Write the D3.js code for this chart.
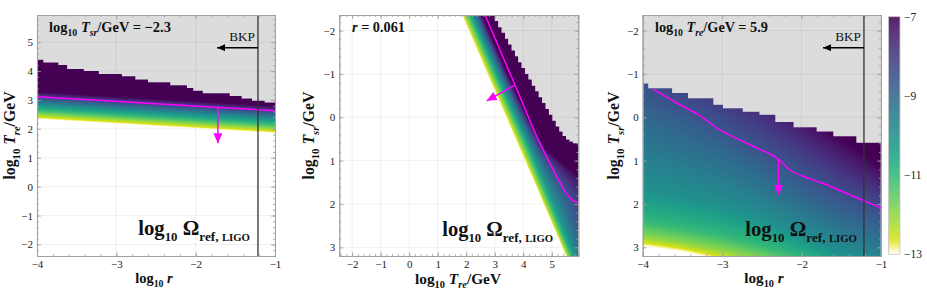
<!DOCTYPE html>
<html><head><meta charset="utf-8">
<script src="https://cdn.jsdelivr.net/npm/d3@7/dist/d3.min.js"></script>
<style>
html,body{margin:0;padding:0;background:#fff;}
text{font-family:"Liberation Serif","DejaVu Serif",serif;}
</style></head><body>
<svg id="chart" width="927" height="290"></svg>
<script>
// ---------------- DATA ----------------
const levels = [-13, -12, -11, -10, -9, -8, -7];      // log10 Omega levels
const cbTicks = [-13, -11, -9, -7];
const logRBKP = Math.log10(0.061);

// Panel 1: x = log10 r, y = log10 Tre (Tsr = -2.3). Level positions (Tre) per column
const p1Nodes = [-4, -1];
const p1LevelTre = [
  [2.34, 2.50, 2.65, 2.83, 2.98, 3.13, 3.28],
  [1.85, 2.01, 2.16, 2.34, 2.49, 2.64, 2.79]
];
const p1StepR   = [-4.00,-3.92,-3.73,-3.62,-3.41,-3.22,-2.93,-2.76,-2.60,-2.32,-2.11,-2.03,-1.91,-1.57,-1.42,-1.29,-1.13,-1.00];
const p1StepTre = [ 4.39, 4.30, 4.21, 4.07, 4.00, 3.90, 3.82, 3.71, 3.61, 3.51, 3.41, 3.32, 3.23, 3.14, 3.05, 2.97, 2.91, 2.91];
const p1MagR   = [-4, -2.5, -1];
const p1MagTre = [3.11, 2.87, 2.63];
const p1Arrow  = {x: -1.72, from: 2.75, to: 1.50};
const p1XTicks = [-4, -3, -2, -1];
const p1YTicks = [-2, -1, 0, 1, 2, 3, 4, 5];

// Panel 2: x = log10 Tre, y = log10 Tsr (r = 0.061). Level positions (Tre) per Tsr row
const p2Nodes = [-2.36, -1, 0, 0.75, 1.5, 2, 2.5, 3.2];
const p2LevelTre = [
  [1.85, 1.98, 2.11, 2.23, 2.35, 2.45, 2.55],
  [2.74, 2.87, 3.00, 3.12, 3.24, 3.34, 3.45],
  [3.40, 3.53, 3.66, 3.79, 3.92, 4.04, 4.16],
  [3.89, 4.02, 4.16, 4.30, 4.46, 4.62, 4.80],
  [4.39, 4.50, 4.63, 4.80, 5.05, 5.55, 6.20],
  [4.71, 4.81, 4.94, 5.12, 5.50, 6.05, 6.70],
  [5.04, 5.13, 5.25, 5.42, 5.75, 6.30, 7.00],
  [5.50, 5.58, 5.68, 5.82, 6.12, 6.70, 7.40]
];
const p2StepTre = [3.00,3.12,3.24,3.36,3.47,3.59,3.71,3.82,3.94,4.06,4.18,4.30,4.42,4.54,4.66,4.78,4.90,5.02,5.14,5.26,5.38,5.50,5.62,5.74,5.93];
const p2StepTsr = [-2.22,-2.08,-1.95,-1.81,-1.68,-1.54,-1.41,-1.27,-1.14,-1.00,-0.87,-0.73,-0.60,-0.46,-0.33,-0.19,-0.06,0.08,0.21,0.33,0.43,0.51,0.56,0.60,0.60];
const p2MagTre = [2.66, 3.71, 4.55, 4.85, 5.20, 5.50, 5.75, 5.93];
const p2MagTsr = [-2.36, -0.745, 0.55, 0.95, 1.40, 1.75, 1.92, 1.96];
const p2Arrow  = {x0: 3.71, y0: -0.745, x1: 2.72, y1: -0.38};
const p2XTicks = [-2, -1, 0, 1, 2, 3, 4, 5];
const p2YTicks = [-2, -1, 0, 1, 2, 3];

// Panel 3: x = log10 r, y = log10 Tsr (Tre = 5.9). Level positions (Tsr) per column
const p3Nodes = [-4, -3.5, -3, -2.5, -2, -1.5, -1];
const p3LevelTsr = [
  [2.97, 2.76, 2.40, 1.65, 0.00, -1.30, -2.60],
  [3.10, 2.90, 2.55, 1.85, 0.40, -0.90, -2.20],
  [3.30, 3.08, 2.72, 2.05, 0.80, -0.40, -1.60],
  [3.55, 3.30, 2.95, 2.35, 1.30,  0.15, -0.90],
  [3.90, 3.60, 3.25, 2.75, 1.85,  0.75, -0.20],
  [4.30, 4.00, 3.65, 3.15, 2.30,  1.35,  0.45],
  [4.70, 4.35, 4.00, 3.45, 2.65,  1.80,  1.10]
];
const p3StepR   = [-4.00,-3.93,-3.63,-3.43,-3.11,-2.99,-2.74,-2.53,-2.33,-2.10,-1.81,-1.60,-1.31,-1.00];
const p3StepTsr = [-0.78,-0.67,-0.56,-0.44,-0.29,-0.21,-0.13,-0.06, 0.11, 0.23, 0.33, 0.44, 0.59, 0.59];
const p3MagR   = [-3.87,-3.57,-3.30,-3.03,-2.78,-2.56,-2.31,-2.15,-1.89,-1.64,-1.39,-1.22,-1.00];
const p3MagTsr = [-0.65,-0.33,-0.06, 0.29, 0.52, 0.71, 0.94, 1.21, 1.42, 1.59, 1.79, 1.92, 2.09];
const p3Arrow  = {x: -2.29, from: 0.94, to: 1.79};
const p3XTicks = [-4, -3, -2, -1];
const p3YTicks = [-2, -1, 0, 1, 2, 3];

// ---------------- HELPERS ----------------
const svg = d3.select("#chart");
const defs = svg.append("defs");
const MAG = "#ff00ff";

function addMarker(id, color, len, half) {
  defs.append("marker").attr("id", id).attr("viewBox", `0 ${-half} ${len} ${2*half}`)
    .attr("refX", len).attr("refY", 0).attr("markerUnits", "userSpaceOnUse")
    .attr("markerWidth", len).attr("markerHeight", 2*half).attr("orient", "auto")
    .append("path").attr("d", `M0,${-half}L${len},0L0,${half}Z`).attr("fill", color);
}
addMarker("headK", "#000", 8, 3.5);
addMarker("headM", MAG, 10, 4.5);

// colour map (viridis reversed, fading to white at -13)
const lut = d3.range(601).map(i => {
  const v = -13 + i * 0.01;
  let c = d3.rgb(d3.interpolateViridis((-7 - v) / 6));
  if (v < -12.65) c = d3.rgb(d3.interpolateRgb(c, "#ffffff")((-12.65 - v) / 0.35));
  return c;
});
function colorOf(v) {
  if (!(v >= -13)) return null;
  return lut[Math.round((Math.min(v, -7) + 13) * 100)];
}

function levelField(nodes, table) {
  const posScales = levels.map((L, k) =>
    d3.scaleLinear().domain(nodes).range(table.map(r => r[k])).clamp(true));
  return a => d3.scaleLinear().domain(posScales.map(s => s(a))).range(levels);
}

function drawHeat(g, xs, ys, field, nodeAxis, maskId) {
  const x0 = Math.min(...xs.range()), x1 = Math.max(...xs.range());
  const y0 = Math.min(...ys.range()), y1 = Math.max(...ys.range());
  const w = Math.round(x1 - x0), h = Math.round(y1 - y0);
  const cv = document.createElement("canvas"); cv.width = w; cv.height = h;
  const ctx = cv.getContext("2d"); const img = ctx.createImageData(w, h);
  const put = (i, j, v) => {
    const c = colorOf(v); if (!c) return;
    const k = (j * w + i) * 4;
    img.data[k] = c.r; img.data[k+1] = c.g; img.data[k+2] = c.b; img.data[k+3] = 255;
  };
  if (nodeAxis === "x") {
    for (let i = 0; i < w; i++) {
      const f = field(xs.invert(x0 + i + 0.5));
      for (let j = 0; j < h; j++) put(i, j, f(ys.invert(y0 + j + 0.5)));
    }
  } else {
    for (let j = 0; j < h; j++) {
      const f = field(ys.invert(y0 + j + 0.5));
      for (let i = 0; i < w; i++) put(i, j, f(xs.invert(x0 + i + 0.5)));
    }
  }
  ctx.putImageData(img, 0, 0);
  g.append("image").attr("x", x0).attr("y", y0).attr("width", w).attr("height", h)
    .attr("preserveAspectRatio", "none").attr("href", cv.toDataURL()).attr("mask", `url(#${maskId})`);
}

// rich text with sub-scripts; font size fitted so that the text has the given width
function richRaw(g, x, y, parts, size, opts) {
  const t = g.append("text").attr("x", x).attr("y", y).attr("font-size", size)
    .attr("font-weight", opts.weight || "bold").attr("text-anchor", opts.anchor || "start")
    .attr("fill", "#111");
  if (opts.rotate) t.attr("transform", `rotate(-90,${x},${y})`);
  let shift = 0;
  parts.forEach(p => {
    const s = t.append("tspan").text(p.t);
    const target = p.sub ? size * (opts.subShift || 0.3) : 0;
    if (target !== shift) { s.attr("dy", target - shift); shift = target; }
    if (p.fs) s.attr("font-size", size * p.fs); else if (p.sub) s.attr("font-size", size * 0.68);
    if (p.it) s.attr("font-style", "italic");
  });
  return t;
}
function rich(g, x, y, parts, size, width, opts = {}) {
  const t0 = richRaw(g, x, y, parts, size, opts);
  const w = t0.node().getBBox().width; t0.remove();
  return richRaw(g, x, y, parts, size * width / w, opts);
}

function frame(g, xs, ys, xTicks, yTicks) {
  const top = Math.min(...ys.range()), bot = Math.max(...ys.range());
  const left = Math.min(...xs.range()), right = Math.max(...xs.range());
  const xd = xs.domain(), yd = ys.domain().slice().sort((a, b) => a - b);
  const xMinor = d3.range(Math.ceil(xd[0] * 5), Math.floor(xd[1] * 5) + 1).map(d => d / 5);
  const yMinor = d3.range(Math.ceil(yd[0] * 5), Math.floor(yd[1] * 5) + 1).map(d => d / 5);
  const style = sel => {
    sel.selectAll(".domain").attr("stroke", "#a0a0a0").attr("stroke-width", 0.9);
    sel.selectAll(".tick line").attr("stroke", "#a0a0a0").attr("stroke-width", 0.8);
    sel.attr("font-family", null).attr("font-size", 11);
    sel.selectAll("text").attr("fill", "#222");
  };
  const fmt = d3.format("d");
  const mk = (axis, tr, ticks, size, lab) => g.append("g").attr("transform", tr)
    .call(axis.tickValues(ticks).tickSize(size).tickPadding(4).tickFormat(lab ? fmt : "")).call(style);
  mk(d3.axisBottom(xs), `translate(0,${bot})`, xTicks, -4, true);
  mk(d3.axisTop(xs), `translate(0,${top})`, xTicks, -4, false);
  mk(d3.axisLeft(ys), `translate(${left},0)`, yTicks, -4, true);
  mk(d3.axisRight(ys), `translate(${right},0)`, yTicks, -4, false);
  mk(d3.axisBottom(xs), `translate(0,${bot})`, xMinor, -2, false);
  mk(d3.axisTop(xs), `translate(0,${top})`, xMinor, -2, false);
  mk(d3.axisLeft(ys), `translate(${left},0)`, yMinor, -2, false);
  mk(d3.axisRight(ys), `translate(${right},0)`, yMinor, -2, false);
}

function grid(g, xs, ys, xTicks, yTicks) {
  const top = Math.min(...ys.range()), bot = Math.max(...ys.range());
  const left = Math.min(...xs.range()), right = Math.max(...xs.range());
  const gg = g.append("g").attr("stroke", "#000").attr("stroke-opacity", 0.08).attr("stroke-width", 0.8);
  xTicks.forEach(t => gg.append("line").attr("x1", xs(t)).attr("x2", xs(t)).attr("y1", top).attr("y2", bot));
  yTicks.forEach(t => gg.append("line").attr("y1", ys(t)).attr("y2", ys(t)).attr("x1", left).attr("x2", right));
}

function makeMask(id, xs, ys, grayPath) {
  const m = defs.append("mask").attr("id", id).attr("maskUnits", "userSpaceOnUse")
    .attr("x", 0).attr("y", 0).attr("width", 927).attr("height", 290);
  const x0 = Math.min(...xs.range()), y0 = Math.min(...ys.range());
  m.append("rect").attr("x", x0).attr("y", y0)
    .attr("width", Math.abs(xs.range()[1] - xs.range()[0])).attr("height", Math.abs(ys.range()[1] - ys.range()[0]))
    .attr("fill", "#fff");
  m.append("path").attr("d", grayPath).attr("fill", "#000");
}

const omegaParts = [{t: "log"}, {t: "10", sub: true, fs: 0.62}, {t: " Ω"}, {t: "ref, ", sub: true, fs: 0.64}, {t: "LIGO", sub: true, fs: 0.52}];
const reLabel = sub => [{t: "log"}, {t: "10", sub: true}, {t: " "}, {t: "T", it: true}, {t: sub, sub: true, it: true}, {t: "/GeV"}];
const rLabel = [{t: "log"}, {t: "10", sub: true}, {t: " "}, {t: "r", it: true}];
const bkp = (g, xs, yPix, xTip) => {
  const xl = xs(logRBKP);
  g.append("line").attr("x1", xl).attr("x2", xl).attr("y1", 15).attr("y2", 256)
    .attr("stroke", "#333").attr("stroke-width", 1.3);
  g.append("line").attr("x1", xl).attr("x2", xs(xTip)).attr("y1", yPix).attr("y2", yPix)
    .attr("stroke", "#000").attr("stroke-width", 1.6).attr("marker-end", "url(#headK)");
  rich(g, xl - 3, yPix - 7, [{t: "BKP"}], 14, 26, {anchor: "end", weight: "normal"});
};

// ---------------- PANEL 1 ----------------
{
  const g = svg.append("g");
  const xs = d3.scaleLinear().domain([-4, -1]).range([37, 275]);
  const ys = d3.scaleLinear().domain([-2.4, 5.94]).range([256, 15]);
  const steps = p1StepR.map((r, i) => [r, p1StepTre[i]]);
  const grayPath = d3.area().curve(d3.curveStepAfter).x(d => xs(d[0])).y0(15).y1(d => ys(d[1]))(steps);
  g.append("path").attr("d", grayPath).attr("fill", "#dcdcdc");
  grid(g, xs, ys, p1XTicks, p1YTicks);
  makeMask("m1", xs, ys, grayPath);
  drawHeat(g, xs, ys, levelField(p1Nodes, p1LevelTre), "x", "m1");
  const mag = p1MagR.map((r, i) => [r, p1MagTre[i]]);
  g.append("path").attr("d", d3.line().curve(d3.curveMonotoneX).x(d => xs(d[0])).y(d => ys(d[1]))(mag))
    .attr("fill", "none").attr("stroke", MAG).attr("stroke-width", 1.5);
  g.append("line").attr("x1", xs(p1Arrow.x)).attr("x2", xs(p1Arrow.x)).attr("y1", ys(p1Arrow.from)).attr("y2", ys(p1Arrow.to))
    .attr("stroke", MAG).attr("stroke-width", 1.5).attr("marker-end", "url(#headM)");
  bkp(g, xs, 47.7, -1.73);
  frame(g, xs, ys, p1XTicks, p1YTicks);
  rich(g, 49, 32, [{t: "log"}, {t: "10", sub: true}, {t: " "}, {t: "T", it: true}, {t: "sr", sub: true, it: true}, {t: "/GeV = −2.3"}], 12, 122);
  rich(g, 250, 234.5, omegaParts, 17, 112, {anchor: "end"});
  rich(g, 154, 283, rLabel, 14, 38, {anchor: "middle", subShift: 0.25});
  rich(g, 15, 135.5, reLabel("re"), 14, 88, {anchor: "middle", rotate: true});
}

// ---------------- PANEL 2 ----------------
{
  const g = svg.append("g");
  const xs = d3.scaleLinear().domain([-2.45, 5.93]).range([339.3, 578.3]);
  const ys = d3.scaleLinear().domain([-2.36, 3.2]).range([15, 256]);
  const steps = p2StepTre.map((t, i) => [t, p2StepTsr[i]]);
  const grayPath = d3.area().curve(d3.curveStepAfter).x(d => xs(d[0])).y0(15).y1(d => ys(d[1]))(steps);
  g.append("path").attr("d", grayPath).attr("fill", "#dcdcdc");
  grid(g, xs, ys, p2XTicks, p2YTicks);
  makeMask("m2", xs, ys, grayPath);
  drawHeat(g, xs, ys, levelField(p2Nodes, p2LevelTre), "y", "m2");
  const mag = p2MagTre.map((t, i) => [t, p2MagTsr[i]]);
  g.append("path").attr("d", d3.line().curve(d3.curveMonotoneX).x(d => xs(d[0])).y(d => ys(d[1]))(mag))
    .attr("fill", "none").attr("stroke", MAG).attr("stroke-width", 1.5);
  g.append("line").attr("x1", xs(p2Arrow.x0)).attr("y1", ys(p2Arrow.y0)).attr("x2", xs(p2Arrow.x1)).attr("y2", ys(p2Arrow.y1))
    .attr("stroke", MAG).attr("stroke-width", 1.5).attr("marker-end", "url(#headM)");
  frame(g, xs, ys, p2XTicks, p2YTicks);
  rich(g, 352, 32, [{t: "r", it: true}, {t: " = 0.061"}], 12, 53);
  rich(g, 553, 236, omegaParts, 17, 111, {anchor: "end"});
  rich(g, 458, 284, reLabel("re"), 14, 86, {anchor: "middle", subShift: 0.25});
  rich(g, 314, 135.5, reLabel("sr"), 14, 88, {anchor: "middle", rotate: true});
}

// ---------------- PANEL 3 ----------------
{
  const g = svg.append("g");
  const xs = d3.scaleLinear().domain([-4, -1]).range([642.7, 881]);
  const ys = d3.scaleLinear().domain([-2.36, 3.2]).range([15, 256]);
  const steps = p3StepR.map((r, i) => [r, p3StepTsr[i]]);
  const grayPath = d3.area().curve(d3.curveStepAfter).x(d => xs(d[0])).y0(15).y1(d => ys(d[1]))(steps);
  g.append("path").attr("d", grayPath).attr("fill", "#dcdcdc");
  grid(g, xs, ys, p3XTicks, p3YTicks);
  makeMask("m3", xs, ys, grayPath);
  drawHeat(g, xs, ys, levelField(p3Nodes, p3LevelTsr), "x", "m3");
  const mag = p3MagR.map((r, i) => [r, p3MagTsr[i]]);
  g.append("path").attr("d", d3.line().curve(d3.curveMonotoneX).x(d => xs(d[0])).y(d => ys(d[1]))(mag))
    .attr("fill", "none").attr("stroke", MAG).attr("stroke-width", 1.5);
  g.append("line").attr("x1", xs(p3Arrow.x)).attr("x2", xs(p3Arrow.x)).attr("y1", ys(p3Arrow.from)).attr("y2", ys(p3Arrow.to))
    .attr("stroke", MAG).attr("stroke-width", 1.5).attr("marker-end", "url(#headM)");
  bkp(g, xs, 47.7, -1.73);
  frame(g, xs, ys, p3XTicks, p3YTicks);
  rich(g, 655, 32, [{t: "log"}, {t: "10", sub: true}, {t: " "}, {t: "T", it: true}, {t: "re", sub: true, it: true}, {t: "/GeV = 5.9"}], 12, 113);
  rich(g, 857, 236, omegaParts, 17, 112, {anchor: "end"});
  rich(g, 764, 283, rLabel, 14, 40, {anchor: "middle", subShift: 0.25});
  rich(g, 619, 135.5, reLabel("sr"), 14, 88, {anchor: "middle", rotate: true});

  // colour bar
  const cs = d3.scaleLinear().domain([-13, -7]).range([254.3, 16.7]);
  const grad = defs.append("linearGradient").attr("id", "cbg").attr("x1", 0).attr("x2", 0).attr("y1", 1).attr("y2", 0);
  d3.range(0, 601, 10).forEach(i => grad.append("stop").attr("offset", i / 600).attr("stop-color", lut[i].formatHex()));
  g.append("rect").attr("x", 888.5).attr("y", cs(-7)).attr("width", 11.5).attr("height", cs(-13) - cs(-7))
    .attr("fill", "url(#cbg)").attr("fill-opacity", 0.88).attr("stroke", "#c8c8c8").attr("stroke-width", 0.8);
  const ca = g.append("g").attr("transform", "translate(900,0)")
    .call(d3.axisRight(cs).tickValues(cbTicks).tickSize(0).tickPadding(4).tickFormat(d3.format("d")));
  ca.select(".domain").remove();
  ca.attr("font-family", null).attr("font-size", 11.5).selectAll("text").attr("fill", "#222");
}
</script>
</body></html>
